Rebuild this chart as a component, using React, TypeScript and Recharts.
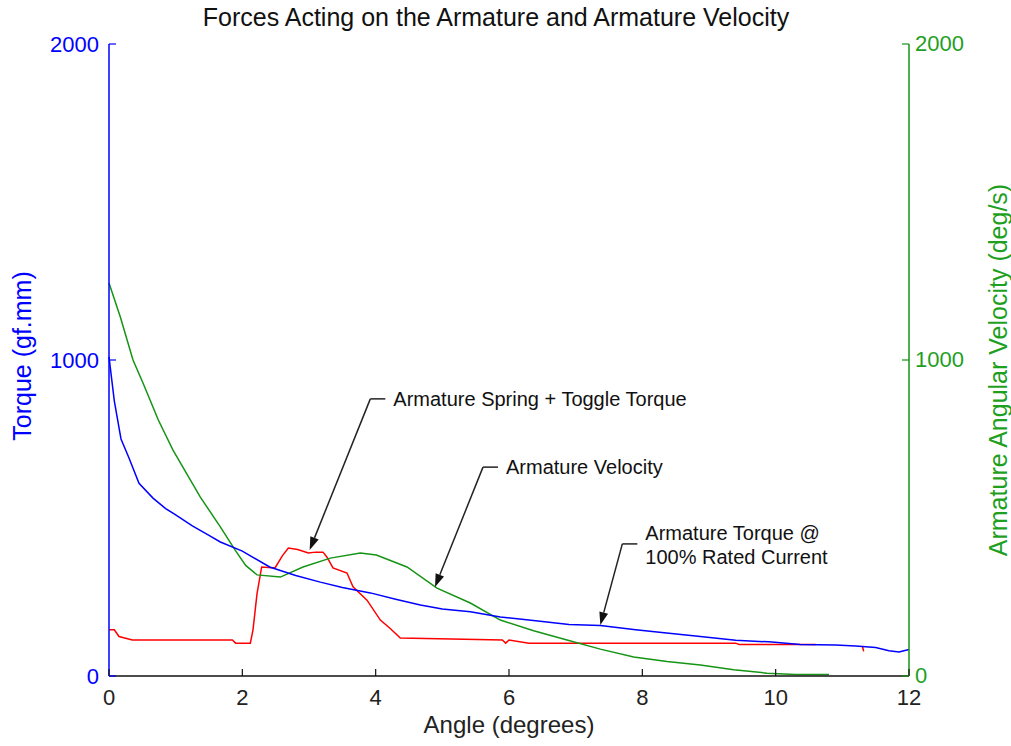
import {
  LineChart,
  Line,
  XAxis,
  YAxis,
  ReferenceLine,
} from "recharts";

// Armature torque @ 100% rated current (left axis, gf.mm)
const torqueAngle = [
  0, 0.08, 0.18, 0.3, 0.45, 0.66, 0.85, 1, 1.25, 1.5, 1.67, 2, 2.41, 2.8, 3.17,
  3.5, 3.92, 4.3, 4.67, 5, 5.42, 5.87, 6.4, 6.9, 7.37, 7.9, 8.4, 8.87, 9.4, 9.9,
  10.37, 10.9, 11.2, 11.5, 11.7, 11.85, 12,
];
const torqueValue = [
  1010, 870, 750, 690, 610, 563, 530, 510, 475, 445, 424, 395, 345, 318, 297,
  280, 263, 243, 225, 212, 203, 187, 175, 163, 160, 146, 135, 125, 113, 108,
  100, 98, 95, 90, 80, 76, 84,
];

// Armature spring + toggle torque (left axis, gf.mm)
const springAngle = [
  0, 0.08, 0.15, 0.35, 1.85, 1.9, 2.12, 2.16, 2.22, 2.29, 2.49, 2.6, 2.69, 2.83,
  2.99, 3.1, 3.21, 3.27, 3.36, 3.57, 3.66, 3.87, 4.07, 4.21, 4.37, 5.9, 5.95,
  6.0, 6.3, 9.4, 9.45, 10.6, 11.0, 11.3, 11.32,
];
const springValue: (number | null)[] = [
  146, 146, 125, 114, 114, 104, 104, 146, 260, 345, 342, 380, 405, 400, 389,
  392, 392, 376, 342, 326, 282, 240, 177, 152, 120, 114, 104, 114, 104, 104,
  100, 100, null, 95, 78,
];

// Armature angular velocity (right axis, deg/s)
const velocityAngle = [
  0, 0.17, 0.36, 0.51, 0.74, 0.96, 1.37, 1.67, 1.89, 2.05, 2.22, 2.57, 2.91,
  3.32, 3.77, 4.01, 4.47, 4.92, 5.42, 5.87, 6.37, 6.87, 7.37, 7.87, 8.37, 8.87,
  9.37, 9.87, 10.3, 10.8,
];
const velocityValue = [
  1244, 1136, 1000, 927, 810, 715, 566, 472, 399, 350, 320, 313, 345, 373, 389,
  383, 345, 278, 231, 177, 143, 114, 85, 60, 46, 35, 20, 9, 5, 5,
];

const angleTicks = [0, 2, 4, 6, 8, 10, 12];
const valueTicks = [0, 1000, 2000];

// callouts: elbow point and arrow tip in data units (left axis)
const callouts = [
  { lines: ["Armature Spring + Toggle Torque"], elbow: { x: 3.92, y: 877 }, tip: { x: 3.01, y: 399 } },
  { lines: ["Armature Velocity"], elbow: { x: 5.61, y: 661 }, tip: { x: 4.89, y: 282 } },
  { lines: ["Armature Torque @", "100% Rated Current"], elbow: { x: 7.7, y: 418 }, tip: { x: 7.37, y: 161 } },
];

const toPoints = (xs: number[], ys: (number | null)[]) =>
  xs.map((x, i) => ({ x, y: ys[i] }));

const torqueData = toPoints(torqueAngle, torqueValue);
const springData = toPoints(springAngle, springValue);
const velocityData = toPoints(velocityAngle, velocityValue);

const FONT = "'Liberation Sans', Arial, sans-serif";
const BLUE = "#0000ff";
const RED = "#ff0000";
const GREEN = "#159415";
const GREEN_TEXT = "#1f9f1f";
const TICK_LEN = 7;
const TICK_FONT = 22;

// tick with an inward tick mark; gap = distance from axis line to label anchor
const InTick = (side: "bottom" | "top" | "left" | "right", gap: number, color: string, textColor: string) =>
  (props: any) => {
    const { x, y, payload } = props;
    if (side === "top") {
      return <line x1={x} y1={y + gap} x2={x} y2={y + gap + TICK_LEN} stroke={color} strokeWidth={1.2} />;
    }
    if (side === "bottom") {
      const ay = y - gap;
      return (
        <g>
          <line x1={x} y1={ay} x2={x} y2={ay - TICK_LEN} stroke={color} strokeWidth={1.2} />
          <text x={x} y={y} dy="0.72em" textAnchor="middle" fontSize={TICK_FONT} fontFamily={FONT} fill={textColor}>
            {payload.value}
          </text>
        </g>
      );
    }
    if (side === "left") {
      const ax = x + gap;
      return (
        <g>
          <line x1={ax} y1={y} x2={ax + TICK_LEN} y2={y} stroke={color} strokeWidth={1.2} />
          <text x={x} y={y} dy="0.36em" textAnchor="end" fontSize={TICK_FONT} fontFamily={FONT} fill={textColor}>
            {payload.value}
          </text>
        </g>
      );
    }
    const ax = x - gap;
    return (
      <g>
        <line x1={ax} y1={y} x2={ax - TICK_LEN} y2={y} stroke={color} strokeWidth={1.2} />
        <text x={x} y={y} dy="0.34em" textAnchor="start" fontSize={TICK_FONT} fontFamily={FONT} fill={textColor}>
          {payload.value}
        </text>
      </g>
    );
  };

const Callout = (props: any) => {
  const { x1, y1, x2, y2, lines } = props;
  const dx = x2 - x1;
  const dy = y2 - y1;
  const len = Math.sqrt(dx * dx + dy * dy);
  const ux = dx / len;
  const uy = dy / len;
  const head = 13;
  const half = 4.5;
  const bx = x2 - ux * head;
  const by = y2 - uy * head;
  const arrow = `${x2},${y2} ${bx - uy * half},${by + ux * half} ${bx + uy * half},${by - ux * half}`;
  const offs = lines.length === 1 ? [0] : [-11, 13];
  return (
    <g>
      <line x1={x1} y1={y1} x2={bx} y2={by} stroke="#222" strokeWidth={1.5} />
      <polygon points={arrow} fill="#111" />
      <line x1={x1} y1={y1} x2={x1 + 15} y2={y1} stroke="#222" strokeWidth={1.5} />
      {lines.map((t: string, i: number) => (
        <text
          key={i}
          x={x1 + 23}
          y={y1 + offs[i]}
          dominantBaseline="central"
          fontSize={20}
          fontFamily={FONT}
          fill="#111"
        >
          {t}
        </text>
      ))}
    </g>
  );
};

const App = () => {
  return (
    <div style={{ position: "absolute", left: 0, top: 0, width: 1011, height: 746, background: "#fff" }}>
      <div
        style={{
          position: "absolute",
          left: 0,
          top: 3,
          width: 992,
          textAlign: "center",
          fontFamily: FONT,
          fontSize: 25,
          lineHeight: "28px",
          color: "#111",
        }}
      >
        Forces Acting on the Armature and Armature Velocity
      </div>
      <LineChart
        width={1011}
        height={746}
        margin={{ top: 44, right: 32, bottom: 30, left: 39 }}
        style={{ fontFamily: FONT }}
      >
        <XAxis
          xAxisId="top"
          orientation="top"
          type="number"
          dataKey="x"
          domain={[0, 12]}
          ticks={angleTicks}
          height={0}
          tickSize={0}
          tickMargin={0}
          tickLine={false}
          tick={InTick("top", 0, "#333", "#333")}
          axisLine={{ stroke: "#333", strokeWidth: 1.5 }}
        />
        <XAxis
          type="number"
          dataKey="x"
          domain={[0, 12]}
          ticks={angleTicks}
          height={40}
          tickSize={0}
          tickMargin={13}
          tickLine={false}
          tick={InTick("bottom", 13, "#111", "#222")}
          axisLine={{ stroke: "#111", strokeWidth: 1.5 }}
          label={{
            content: ({ viewBox }: any) => (
              <text
                x={viewBox.x + viewBox.width / 2}
                y={viewBox.y + 48}
                textAnchor="middle"
                dominantBaseline="central"
                fontSize={24}
                fontFamily={FONT}
                fill="#222"
              >
                Angle (degrees)
              </text>
            ),
          }}
        />
        <YAxis
          yAxisId="left"
          domain={[0, 2000]}
          ticks={valueTicks}
          width={70}
          tickSize={0}
          tickMargin={10}
          tickLine={false}
          tick={InTick("left", 10, BLUE, BLUE)}
          axisLine={{ stroke: BLUE, strokeWidth: 1.5 }}
          label={{
            content: ({ viewBox }: any) => {
              const cx = viewBox.x + viewBox.width - 87;
              const cy = viewBox.y + viewBox.height / 2 - 4;
              return (
                <text
                  x={cx}
                  y={cy}
                  transform={`rotate(-90 ${cx} ${cy})`}
                  textAnchor="middle"
                  dominantBaseline="central"
                  fontSize={25}
                  fontFamily={FONT}
                  fill={BLUE}
                >
                  Torque (gf.mm)
                </text>
              );
            },
          }}
        />
        <YAxis
          yAxisId="right"
          orientation="right"
          domain={[0, 2000]}
          ticks={valueTicks}
          width={70}
          tickSize={0}
          tickMargin={6}
          tickLine={false}
          tick={InTick("right", 6, GREEN, GREEN_TEXT)}
          axisLine={{ stroke: GREEN, strokeWidth: 1.5 }}
          label={{
            content: ({ viewBox }: any) => {
              const cx = viewBox.x + 89;
              const cy = viewBox.y + viewBox.height / 2 + 10;
              return (
                <text
                  x={cx}
                  y={cy}
                  transform={`rotate(-90 ${cx} ${cy})`}
                  textAnchor="middle"
                  dominantBaseline="central"
                  fontSize={25}
                  fontFamily={FONT}
                  fill={GREEN_TEXT}
                >
                  Armature Angular Velocity (deg/s)
                </text>
              );
            },
          }}
        />
        <Line
          yAxisId="left"
          data={springData}
          dataKey="y"
          type="linear"
          stroke={RED}
          strokeWidth={1.5}
          dot={false}
          connectNulls={false}
          isAnimationActive={false}
        />
        <Line
          yAxisId="right"
          data={velocityData}
          dataKey="y"
          type="linear"
          stroke={GREEN}
          strokeWidth={1.5}
          dot={false}
          isAnimationActive={false}
        />
        <Line
          yAxisId="left"
          data={torqueData}
          dataKey="y"
          type="linear"
          stroke={BLUE}
          strokeWidth={1.5}
          dot={false}
          isAnimationActive={false}
        />
        {callouts.map((c, i) => (
          <ReferenceLine
            key={i}
            yAxisId="left"
            segment={[c.elbow, c.tip]}
            shape={(p: any) => <Callout {...p} lines={c.lines} />}
          />
        ))}
      </LineChart>
    </div>
  );
};

export default App;
